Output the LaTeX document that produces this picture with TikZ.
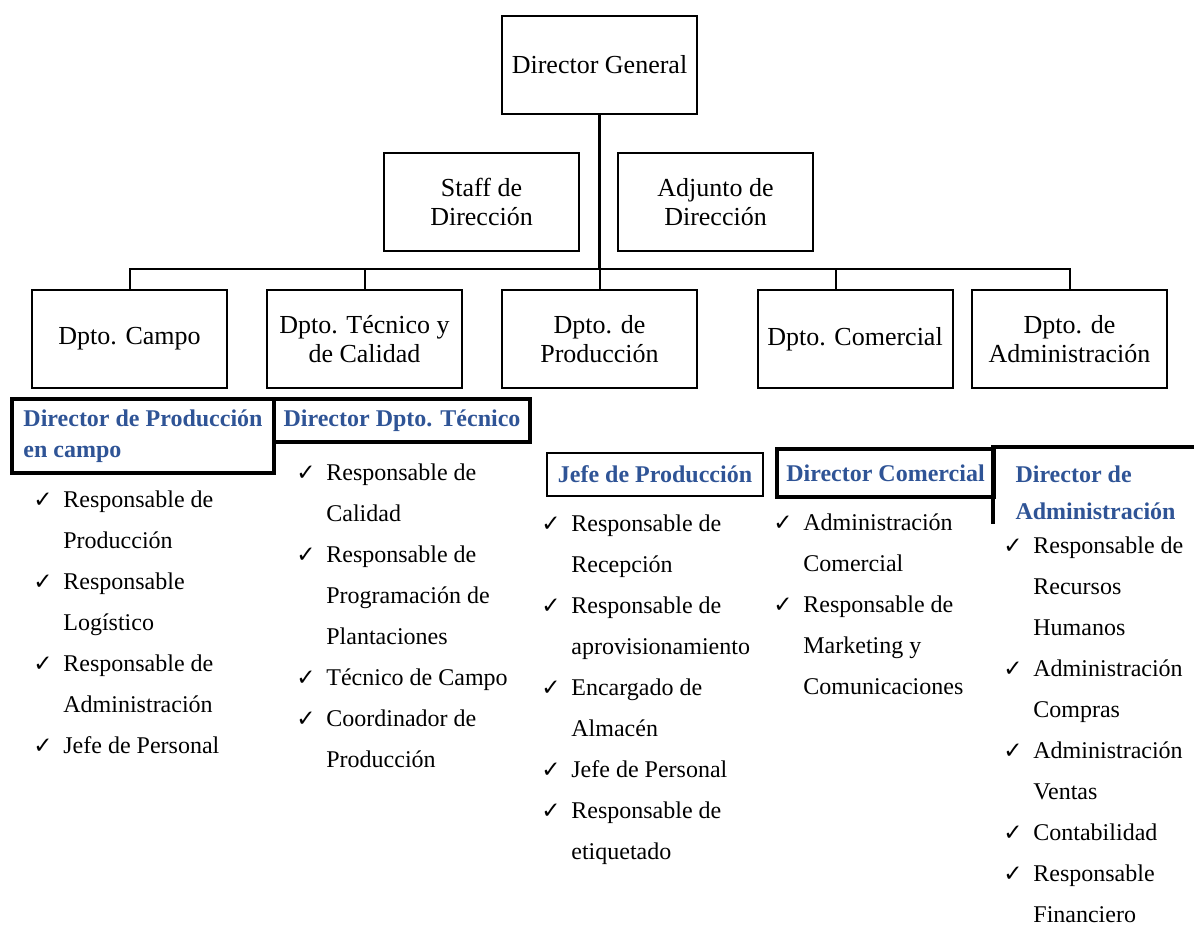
\documentclass[tikz,border=0pt]{standalone}
\usepackage{fontspec}
\setmainfont{Liberation Serif}
\newfontfamily\checkfont{DejaVu Sans}
\usetikzlibrary{positioning}
\definecolor{headblue}{RGB}{47,84,150}
\newcommand{\chk}{\llap{\makebox[15pt][l]{\checkfont\fontsize{11.5}{11.5}\selectfont ✓}}}
\tikzset{
orgchart/.style={
x=0.5pt, y=-0.5pt,
unit/.style={draw, line width=1pt, inner sep=2pt, align=center, minimum width=97.5pt, minimum height=49pt, font=\fontsize{13}{14.5}\selectfont},
head/.style={draw, line width=2pt, inner sep=0pt, anchor=north west, align=left, text=headblue, font=\fontsize{12}{15.5}\selectfont\bfseries},
tasks/.style={anchor=base west, inner sep=0pt, font=\fontsize{12}{20.5}\selectfont},
link/.style={line width=1pt},
trunk/.style={line width=1.5pt},
faint/.style={draw=gray!45, line width=0.3pt, double, double distance=0.6pt},
}}

\begin{document}
\begin{tikzpicture}[orgchart]
\useasboundingbox (0,0) rectangle (1194,926);
\node[unit] (dg) at (599.5,64.5) {Director General};
\node[unit] (staff) at (481.5,202) {Staff de\\Dirección};
\node[unit] (adj) at (715.5,202) {Adjunto de\\Dirección};
\node[unit] (campo) at (129.5,339) {Dpto. Campo};
\node[unit] (tec) at (364.5,339) {Dpto. Técnico y\\de Calidad};
\node[unit] (prod) at (599.5,339) {Dpto. de\\Producción};
\node[unit] (com) at (855,339) {Dpto. Comercial};
\node[unit] (adm) at (1069.5,339) {Dpto. de\\Administración};
%
\node[head, minimum width=131pt, minimum height=37pt] (hcampo) at (10,397) {Director de Producción\\en campo};
\node[head, minimum width=128pt, minimum height=21.5pt] (htec) at (272,397) {Director Dpto. Técnico};
\node[head, line width=1pt, minimum width=108pt, minimum height=21.5pt] (hprod) at (546,452) {Jefe de Producción};
\node[head, minimum width=108.5pt, minimum height=24pt] (hcom) at (775,447) {Director Comercial};
\node[head, draw=none, minimum width=100.5pt, minimum height=44pt, font=\fontsize{12}{18.5}\selectfont\bfseries] (hadm) at (993,447) {Director de\\Administración};
%
\node[tasks] (campolist) at (63,507) {\begin{tabular}[t]{@{}l@{}}
\chk Responsable de\\ Producción\\
\chk Responsable\\ Logístico\\
\chk Responsable de\\ Administración\\
\chk Jefe de Personal
\end{tabular}};
\node[tasks] (teclist) at (326,480) {\begin{tabular}[t]{@{}l@{}}
\chk Responsable de\\ Calidad\\
\chk Responsable de\\ Programación de\\ Plantaciones\\
\chk Técnico de Campo\\
\chk Coordinador de\\ Producción
\end{tabular}};
\node[tasks] (prodlist) at (571,531) {\begin{tabular}[t]{@{}l@{}}
\chk Responsable de\\ Recepción\\
\chk Responsable de\\ aprovisionamiento\\
\chk Encargado de\\ Almacén\\
\chk Jefe de Personal\\
\chk Responsable de\\ etiquetado
\end{tabular}};
\node[tasks] (comlist) at (803,530) {\begin{tabular}[t]{@{}l@{}}
\chk Administración\\ Comercial\\
\chk Responsable de\\ Marketing y\\ Comunicaciones
\end{tabular}};
\node[tasks] (admlist) at (1033,553) {\begin{tabular}[t]{@{}l@{}}
\chk Responsable de\\ Recursos\\ Humanos\\
\chk Administración\\ Compras\\
\chk Administración\\ Ventas\\
\chk Contabilidad\\
\chk Responsable\\ Financiero
\end{tabular}};
%
\coordinate (busl) at (129.5,269);
\coordinate (busr) at (1069.5,269);
\coordinate (combr) at (836,269);
\draw[trunk] (dg.south) -- (dg.south |- busl);
\draw[link] (dg.south |- busl) -- (prod.north);
\draw[link] (campo.north) -- (busl) -- (busr) -- (adm.north);
\draw[link] (tec.north |- busl) -- (tec.north);
\draw[link] (combr) -- (combr |- com.north);
\draw[faint] ([xshift=1pt]dg.south |- 0,170) -- (adj.west |- 0,170);
\draw[line width=2pt] (hadm.north east) -- (hadm.north west) -- ([yshift=7.5pt]hadm.south west);
\end{tikzpicture}
\end{document}
